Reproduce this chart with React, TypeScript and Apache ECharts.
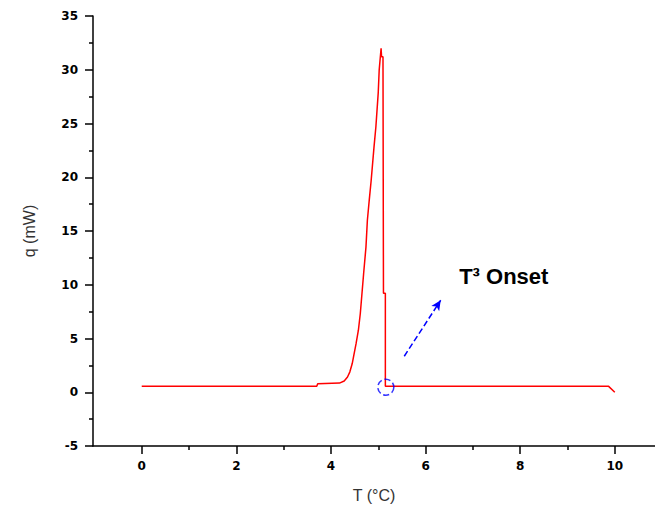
import React, { useEffect, useRef } from "react";
import * as echarts from "echarts";

const tempX: number[] = [0, 3.7, 3.72, 4.18, 4.28, 4.35, 4.4, 4.45, 4.49, 4.53, 4.58, 4.62, 4.69, 4.74, 4.77, 4.81, 4.85, 4.91, 4.95, 5.0, 5.02, 5.06, 5.07, 5.1, 5.11, 5.15, 5.15, 9.87, 10.0];
const heatQ: number[] = [0.55, 0.55, 0.8, 0.85, 1.05, 1.42, 1.9, 2.67, 3.6, 4.5, 5.77, 7.3, 11, 13.5, 16, 17.9, 19.7, 22.8, 24.7, 27.9, 30, 32, 31.2, 31.2, 9.2, 9.2, 0.55, 0.55, 0.0];

const xMajorTicks: number[] = [0, 2, 4, 6, 8, 10];
const xMinorTicks: number[] = [1, 3, 5, 7, 9];
const onsetPoint: number[] = [5.16, 0.47];
const arrowFrom: number[] = [5.55, 3.35];
const arrowTo: number[] = [6.32, 8.56];
const labelPos: number[] = [6.71, 10.74];
const labelText = "T³ Onset";

export default function App() {
  const ref = useRef<HTMLDivElement>(null);
  useEffect(() => {
    if (!ref.current) return;
    const chart = echarts.init(ref.current, undefined, { renderer: "svg" });
    const axisColor = "#000";
    const labelFont = { fontFamily: "DejaVu Sans", fontSize: 12, fontWeight: "bold" as const, color: "#000" };
    const xMin = -1.03;
    const xMax = 10.85;
    chart.setOption({
      animation: false,
      backgroundColor: "#fff",
      grid: { left: 93, top: 16, right: 0, bottom: 64 },
      xAxis: [
        {
          type: "value",
          min: xMin,
          max: xMax,
          position: "bottom",
          name: "T (°C)",
          nameLocation: "middle",
          nameGap: 41,
          nameTextStyle: { fontFamily: "Arial", fontSize: 16, color: "#333" },
          axisLine: { show: true, onZero: false, lineStyle: { color: axisColor, width: 1.5 } },
          axisTick: { show: true, customValues: xMajorTicks, length: 8, lineStyle: { color: axisColor, width: 1.5 } },
          axisLabel: { show: true, customValues: xMajorTicks, margin: 14, ...labelFont },
          splitLine: { show: false },
        },
        {
          type: "value",
          min: xMin,
          max: xMax,
          position: "bottom",
          axisLine: { show: false, onZero: false },
          axisTick: { show: true, customValues: xMinorTicks, length: 4, lineStyle: { color: axisColor, width: 1.5 } },
          axisLabel: { show: false },
          splitLine: { show: false },
        },
      ],
      yAxis: {
        type: "value",
        min: -5,
        max: 35,
        interval: 5,
        name: "q (mW)",
        nameLocation: "middle",
        nameGap: 56,
        nameTextStyle: { fontFamily: "Arial", fontSize: 16, color: "#333" },
        axisLine: { show: true, onZero: false, lineStyle: { color: axisColor, width: 1.5 } },
        axisTick: { show: true, length: 8, lineStyle: { color: axisColor, width: 1.5 } },
        minorTick: { show: true, splitNumber: 2, length: 4, lineStyle: { color: axisColor, width: 1.5 } },
        axisLabel: { margin: 15, ...labelFont },
        splitLine: { show: false },
      },
      series: [
        {
          type: "line",
          xAxisIndex: 0,
          data: tempX.map((x, i) => [x, heatQ[i]]),
          showSymbol: false,
          lineStyle: { color: "#ff0000", width: 1.5 },
          itemStyle: { color: "#ff0000" },
          z: 2,
        },
        {
          type: "scatter",
          xAxisIndex: 0,
          data: [onsetPoint],
          symbol: "circle",
          symbolSize: 16,
          itemStyle: { color: "rgba(0,0,0,0)", borderColor: "#0000ff", borderWidth: 1.5, borderType: "dashed" },
          z: 3,
          markLine: {
            silent: true,
            symbol: ["none", "arrow"],
            symbolSize: [7, 10],
            label: { show: false },
            lineStyle: { color: "#0000ff", width: 1.5, type: "dashed" },
            data: [[{ coord: arrowFrom }, { coord: arrowTo }]],
          },
          markPoint: {
            silent: true,
            symbol: "circle",
            symbolSize: 0,
            data: [{ coord: labelPos }],
            label: {
              show: true,
              position: "right",
              distance: 0,
              formatter: labelText,
              fontFamily: "Arial",
              fontSize: 22,
              fontWeight: "bold",
              color: "#000",
            },
          },
        },
      ],
    });
    return () => chart.dispose();
  }, []);
  return <div ref={ref} style={{ position: "absolute", left: 0, top: 0, width: 655, height: 510 }} />;
}
